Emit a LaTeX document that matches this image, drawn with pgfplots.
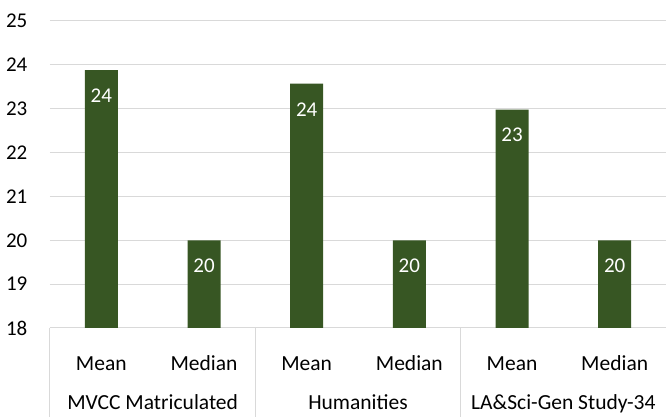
\documentclass[border=0pt]{standalone}
\usepackage{pgfplots}
\pgfplotsset{compat=1.18}
\usepackage{fontspec}
\setmainfont{Carlito}
\definecolor{bargreen}{HTML}{375623}
\definecolor{gridgray}{HTML}{D9D9D9}
\begin{document}
\begin{tikzpicture}
\begin{axis}[
  scale only axis, width=616pt, height=307pt,
  ymin=18, ymax=25, ytick={18,...,25},
  xmin=-0.5, xmax=5.5, xtick={0,...,5},
  xticklabels={Mean,Median,Mean,Median,Mean,Median},
  ybar, bar width=33pt,
  ymajorgrids, grid style={draw=gridgray, line width=1pt},
  axis x line*=bottom, axis y line*=left,
  x axis line style={draw=gridgray, line width=1pt, -},
  y axis line style={draw=none},
  tick style={draw=none},
  font=\fontsize{21}{25}\selectfont,
  /pgf/number format/assume math mode=true,
  yticklabel style={inner sep=0pt, xshift=-22.5pt},
  xticklabel style={anchor=base, inner sep=0pt, yshift=-38pt, font=\fontsize{21.5}{25}\selectfont},
  nodes near coords, point meta=y,
  nodes near coords style={white, anchor=center, inner sep=0pt, yshift=-25.5pt,
    /pgf/number format/fixed, /pgf/number format/precision=0},
]
\addplot[fill=bargreen, draw=none] coordinates {
  (0,23.88) (1,20) (2,23.57) (3,20) (4,22.98) (5,20)
};
\coordinate (s0) at (axis cs:-0.5,18);
\coordinate (s1) at (axis cs:1.5,18);
\coordinate (s2) at (axis cs:3.5,18);
\coordinate (s3) at (axis cs:5.5,18);
\coordinate (g0) at (axis cs:0.5,18);
\coordinate (g1) at (axis cs:2.5,18);
\coordinate (g2) at (axis cs:4.5,18);
\end{axis}
\foreach \i in {0,1,2,3}
  \draw[gridgray, line width=1pt] (s\i) -- ++(0,-89pt);
\begin{scope}[font=\fontsize{21.5}{25}\selectfont]
\node[anchor=base, inner sep=0pt] at ([yshift=-82pt]g0) {MVCC Matriculated};
\node[anchor=base, inner sep=0pt] at ([yshift=-82pt]g1) {Humanities};
\node[anchor=base, inner sep=0pt] at ([yshift=-82pt]g2) {LA\&Sci-Gen Study-34};
\end{scope}
\pgfresetboundingbox
\path[use as bounding box] ([xshift=-50pt,yshift=-89pt]s0) rectangle ([yshift=21pt]current axis.north east);
\end{tikzpicture}
\end{document}
